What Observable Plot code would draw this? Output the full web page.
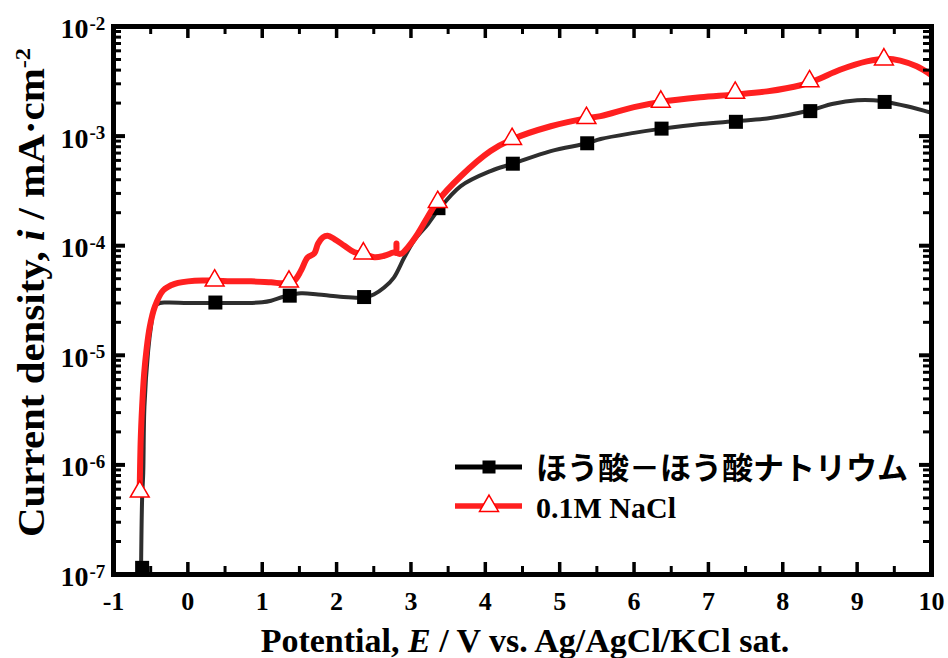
<!DOCTYPE html>
<html><head><meta charset="utf-8">
<script src="https://cdn.jsdelivr.net/npm/d3@7"></script>
<script src="https://cdn.jsdelivr.net/npm/@observablehq/plot@0.6"></script>
<style>html,body{margin:0;padding:0;background:#fff;} #chart svg{display:block;}</style>
</head><body><div id="chart"></div>
<script>
// ---- data ----
const seriesNames = ["ほう酸－ほう酸ナトリウム", "0.1M NaCl"];

// black series (boric acid – sodium borate) curve
const blackE = [-0.63, -0.615, -0.60, -0.584, -0.534, -0.49, -0.45, -0.38, -0.26, 0.0, 0.37, 0.8, 1.0, 1.12, 1.3, 1.52, 1.75, 2.02, 2.37, 2.5, 2.64, 2.77, 2.91, 3.04, 3.23, 3.36, 3.67, 4.07, 4.37, 4.88, 5.37, 5.55, 6.0, 6.38, 6.9, 7.39, 7.79, 8.06, 8.37, 8.68, 9.0, 9.22, 9.4, 9.67, 10.0];
const blackI = [1e-7, 5e-7, 8.5e-7, 3.4e-6, 1.1e-5, 1.95e-5, 2.75e-5, 3.0e-5, 3.03e-5, 3.0e-5, 3.0e-5, 3.0e-5, 3.05e-5, 3.15e-5, 3.44e-5, 3.68e-5, 3.59e-5, 3.44e-5, 3.37e-5, 3.59e-5, 4.15e-5, 5.12e-5, 7.8e-5, 1.11e-4, 1.58e-4, 2.08e-4, 3.5e-4, 4.8e-4, 5.6e-4, 7.3e-4, 8.6e-4, 9.4e-4, 1.07e-3, 1.17e-3, 1.29e-3, 1.37e-3, 1.45e-3, 1.55e-3, 1.72e-3, 1.97e-3, 2.12e-3, 2.12e-3, 2.05e-3, 1.87e-3, 1.63e-3];
// black markers
const blackMarkE = [-0.615, 0.37, 1.37, 2.37, 3.37, 4.37, 5.37, 6.37, 7.37, 8.37, 9.37];
const blackMarkI = [1.15e-7, 3.03e-5, 3.5e-5, 3.4e-5, 2.2e-4, 5.6e-4, 8.6e-4, 1.17e-3, 1.35e-3, 1.69e-3, 2.05e-3];

// red series (0.1M NaCl) curve
const redE = [-0.647, -0.634, -0.615, -0.588, -0.557, -0.513, -0.446, -0.333, -0.177, 0.09, 0.36, 0.58, 0.85, 1.12, 1.30, 1.43, 1.52, 1.61, 1.70, 1.75, 1.815, 1.88, 1.97, 2.105, 2.24, 2.37, 2.51, 2.64, 2.78, 2.80, 2.805, 2.815, 2.87, 2.96, 3.09, 3.22, 3.35, 3.67, 4.07, 4.37, 4.88, 5.37, 5.55, 6.0, 6.36, 6.89, 7.34, 7.79, 8.24, 8.46, 8.77, 9.13, 9.4, 9.58, 9.8, 10.0];
const redI = [6.3e-7, 1.7e-6, 3.4e-6, 6.8e-6, 1.11e-5, 1.81e-5, 2.75e-5, 3.9e-5, 4.49e-5, 4.8e-5, 4.8e-5, 4.73e-5, 4.73e-5, 4.63e-5, 4.54e-5, 4.8e-5, 5.9e-5, 7.8e-5, 8.5e-5, 1.04e-4, 1.19e-4, 1.23e-4, 1.15e-4, 1.0e-4, 8.7e-5, 8.4e-5, 7.85e-5, 8.1e-5, 8.7e-5, 8.6e-5, 1.05e-4, 8.6e-5, 8.45e-5, 9.7e-5, 1.28e-4, 1.81e-4, 2.5e-4, 4.3e-4, 7.3e-4, 9.4e-4, 1.23e-3, 1.46e-3, 1.52e-3, 1.84e-3, 2.05e-3, 2.26e-3, 2.39e-3, 2.56e-3, 2.91e-3, 3.27e-3, 4.03e-3, 4.81e-3, 5.08e-3, 4.88e-3, 4.33e-3, 3.6e-3];
// red markers
const redMarkE = [-0.647, 0.36, 1.36, 2.36, 3.36, 4.36, 5.36, 6.36, 7.36, 8.36, 9.36];
const redMarkI = [5.7e-7, 4.8e-5, 4.7e-5, 8.5e-5, 2.5e-4, 9.4e-4, 1.46e-3, 2.06e-3, 2.48e-3, 3.16e-3, 5.0e-3];

// ticks
const xTicks = [-1, 0, 1, 2, 3, 4, 5, 6, 7, 8, 9, 10];
const xTickLabels = ["-1", "0", "1", "2", "3", "4", "5", "6", "7", "8", "9", "10"];
const xMinorTicks = [-0.5, 0.5, 1.5, 2.5, 3.5, 4.5, 5.5, 6.5, 7.5, 8.5, 9.5];
const yTicks = [1e-7, 1e-6, 1e-5, 1e-4, 1e-3, 1e-2];
const yExponents = ["-7", "-6", "-5", "-4", "-3", "-2"];
const yMinorTicks = [];
for (const dec of [1e-7, 1e-6, 1e-5, 1e-4, 1e-3]) for (const m of [2,3,4,5,6,7,8,9]) yMinorTicks.push(m * dec);

// ---- build ----
const W = 948, H = 658, ML = 113, MR = 17, MT = 26, MB = 84;
const innerW = W - ML - MR, innerH = H - MT - MB;
const SERIF = '"Liberation Serif","Times New Roman",Times,serif';
const CJK = '"Noto Sans CJK JP","Noto Sans CJK SC",sans-serif';
const RED = "#ff2020";
const BLACK_LINE = "#2e2e2e";

const blackLine = blackE.map((e, k) => ({E: e, i: blackI[k]}));
const redLine = redE.map((e, k) => ({E: e, i: redI[k]}));
const blackMarks = blackMarkE.map((e, k) => ({E: e, i: blackMarkI[k]}));
const redMarks = redMarkE.map((e, k) => ({E: e, i: redMarkI[k]}));
const xLab = xTicks.map((v, k) => ({v, t: xTickLabels[k]}));
const yLab = yTicks.map((v, k) => ({v, t: yExponents[k]}));

// inward ticks: rules positioned by the scales, shortened with pixel insets
function ticksX(values, side, len, sw) {
  const o = {x: d => d, stroke: "#000", strokeWidth: sw};
  if (side === "bottom") o.insetTop = innerH - len; else o.insetBottom = innerH - len;
  return Plot.ruleX(values, o);
}
function ticksY(values, side, len, sw) {
  const o = {y: d => d, stroke: "#000", strokeWidth: sw};
  if (side === "left") o.insetRight = innerW - len; else o.insetLeft = innerW - len;
  return Plot.ruleY(values, o);
}

const chart = Plot.plot({
  width: W, height: H,
  marginLeft: ML, marginRight: MR, marginTop: MT, marginBottom: MB,
  x: {domain: [-1, 10], axis: null},
  y: {type: "log", domain: [1e-7, 1e-2], axis: null},
  style: {background: "#fff", overflow: "visible", fontFamily: SERIF},
  marks: [
    Plot.line(blackLine, {x: "E", y: "i", stroke: BLACK_LINE, strokeWidth: 4, curve: "catmull-rom", clip: true}),
    Plot.dot(blackMarks, {x: "E", y: "i", symbol: "square", r: 7.9, fill: "#000", stroke: null}),
    Plot.line(redLine, {x: "E", y: "i", stroke: RED, strokeWidth: 6, curve: "catmull-rom", clip: true}),
    Plot.dot(redMarks, {x: "E", y: "i", symbol: "triangle", r: 7, fill: "#fff", stroke: "#ff0000", strokeWidth: 1.5}),
    Plot.frame({stroke: "#000", strokeWidth: 5}),
    ticksX(xTicks, "bottom", 12, 3.5),
    ticksX(xMinorTicks, "bottom", 8, 3),
    ticksX(xTicks, "top", 12, 3.5),
    ticksX(xMinorTicks, "top", 8, 3),
    ticksY(yTicks, "left", 12, 4),
    ticksY(yMinorTicks, "left", 8, 3),
    ticksY(yTicks, "right", 12, 4),
    ticksY(yMinorTicks, "right", 8, 3),
    // tick labels
    Plot.text(xLab, {x: "v", text: "t", frameAnchor: "bottom", lineAnchor: "top", dy: 17, fontSize: 26, fontWeight: "bold", fontFamily: SERIF, fill: "#000"}),
    Plot.text(yLab, {y: "v", text: () => "10", frameAnchor: "left", textAnchor: "end", lineAnchor: "middle", dx: -25, dy: 2.5, fontSize: 28, fontWeight: "bold", fontFamily: SERIF, fill: "#000"}),
    Plot.text(yLab, {y: "v", text: "t", frameAnchor: "left", textAnchor: "start", lineAnchor: "middle", dx: -24, dy: -3, fontSize: 19, fontWeight: "bold", fontFamily: SERIF, fill: "#000"})
  ]
});
document.getElementById("chart").appendChild(chart);

// ---- titles and legend ----
const svg = d3.select(chart);
const xt = svg.append("text")
  .attr("x", 525).attr("y", 652).attr("text-anchor", "middle")
  .attr("font-family", SERIF).attr("font-weight", "bold").attr("font-size", 34)
  .attr("fill", "#000").style("white-space", "pre");
xt.append("tspan").text("Potential, ");
xt.append("tspan").attr("font-style", "italic").text("E");
xt.append("tspan").text(" / V vs. Ag/AgCl/KCl sat.");

const yt = svg.append("text")
  .attr("transform", "translate(44,537) rotate(-90)").attr("text-anchor", "start")
  .attr("font-family", SERIF).attr("font-weight", "bold").attr("font-size", 37)
  .attr("fill", "#000").style("white-space", "pre")
  .attr("textLength", 489).attr("lengthAdjust", "spacingAndGlyphs");
yt.append("tspan").text("Current density, ");
yt.append("tspan").attr("font-style", "italic").text("i");
yt.append("tspan").text(" / mA·cm");
yt.append("tspan").attr("font-size", 22).attr("dy", -14).text("-2");

const lg = svg.append("g").attr("text-anchor", "start");
lg.append("line").attr("x1", 455).attr("x2", 522).attr("y1", 467).attr("y2", 467)
  .attr("stroke", "#000").attr("stroke-width", 5);
lg.append("rect").attr("x", 482.5).attr("y", 460.5).attr("width", 13).attr("height", 13).attr("fill", "#000");
lg.append("text").attr("x", 536).attr("y", 479).attr("text-anchor", "start").attr("font-family", CJK).attr("font-weight", "bold")
  .attr("font-size", 31).attr("fill", "#000").text(seriesNames[0]);
lg.append("line").attr("x1", 455).attr("x2", 522).attr("y1", 506).attr("y2", 506)
  .attr("stroke", RED).attr("stroke-width", 5.5);
lg.append("path").attr("transform", "translate(489,506)")
  .attr("d", d3.symbol(d3.symbolTriangle, 156)())
  .attr("fill", "#fff").attr("stroke", "#ff0000").attr("stroke-width", 1.5);
lg.append("text").attr("x", 536).attr("y", 518).attr("text-anchor", "start").attr("font-family", SERIF).attr("font-weight", "bold")
  .attr("font-size", 30).attr("fill", "#000").text(seriesNames[1]);
</script>
</body></html>
